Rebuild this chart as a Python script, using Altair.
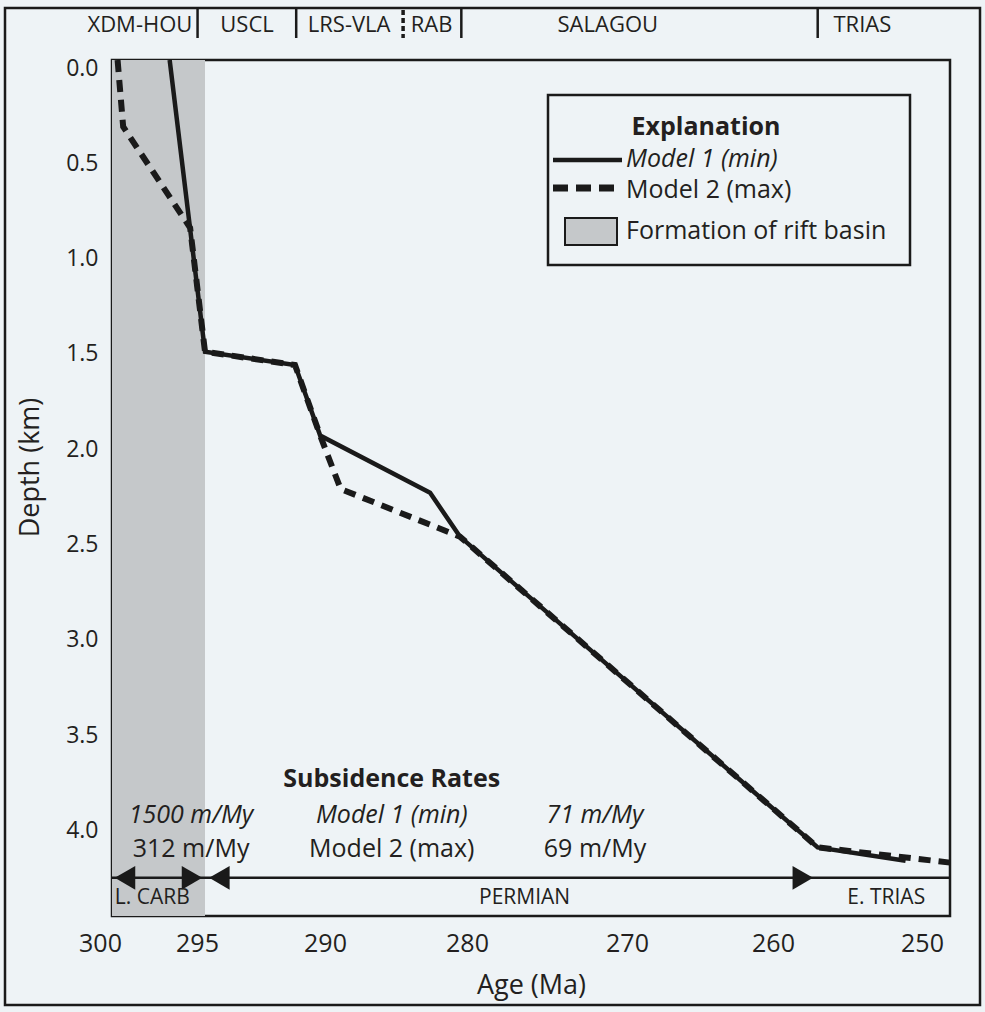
import altair as alt
import pandas as pd

# ---------------- data ----------------
m1_age = [296.9, 295.0, 291.25, 290.2, 282.6, 280.5, 257.0, 251.1]
m1_depth = [0.0, 1.53, 1.60, 1.97, 2.27, 2.50, 4.13, 4.20]

m2_age = [299.7, 299.4, 295.8, 295.0, 291.25, 290.2, 288.9, 280.5, 257.0, 248.0]
m2_depth = [0.0, 0.35, 0.88, 1.53, 1.60, 1.97, 2.25, 2.50, 4.13, 4.21]

rift_start, rift_end = 300, 295

x_ticks = [300, 295, 290, 280, 270, 260, 250]
y_ticks = [0.0, 0.5, 1.0, 1.5, 2.0, 2.5, 3.0, 3.5, 4.0]

form_names = ["XDM-HOU", "USCL", "LRS-VLA", "RAB", "SALAGOU", "TRIAS"]
form_label_age = [298.5, 293.25, 288.3, 282.5, 271.2, 254.0]
form_bound_age = [295.4, 291.2, 284.5, 280.4, 257.0]
form_bound_dashed = [False, False, True, False, False]

period_names = ["L. CARB", "PERMIAN", "E. TRIAS"]
period_label_age = [299.85, 276.4, 252.4]
period_align = ["left", "center", "center"]
period_arrow_age = [299.3, 295.7, 294.4, 258.0]
period_arrow_dir = ["triangle-left", "triangle-right", "triangle-left", "triangle-right"]
period_line = (300, 248)
period_line_depth = 4.29

rate_col_age = [295.75, 285.3, 272.0]
rate_row1 = ["1500 m/My", "Model 1 (min)", "71 m/My"]
rate_row2 = ["312 m/My", "Model 2 (max)", "69 m/My"]
rate_title = "Subsidence Rates"
rate_title_age, rate_title_depth = 285.3, 3.77
rate_row_depth = [3.96, 4.14]

# ---------------- style ----------------
FONT = "Open Sans"
TXT = "#231f20"
BG = "#eef3f6"
SHADE = "#c5c8ca"
W, H = 838, 856
DMAX = 4.49

xs = alt.Scale(domain=[300, 295, 290, 280, 270, 260, 250, 248],
               range=[0, 93, 213, 355, 515, 661, 810, 838], nice=False, zero=False)
ys = alt.Scale(domain=[0, DMAX], reverse=True, nice=False, zero=False)

x_axis = alt.Axis(
    values=x_ticks, title="Age (Ma)", grid=False, ticks=False, domain=False,
    labelFont=FONT, labelFontSize=25, labelColor=TXT, labelPadding=15, labelFlush=False,
    labelOffset={"condition": [{"test": "datum.value == 300", "value": -12},
                               {"test": "datum.value == 295", "value": -8}], "value": 0},
    titleFont=FONT, titleFontSize=27, titleFontWeight="normal", titleColor=TXT,
    titleY=69, titleBaseline="middle")
y_axis = alt.Axis(
    values=y_ticks, format=".1f", title="Depth (km)", grid=False, ticks=False, domain=False,
    labelFont=FONT, labelFontSize=23, labelColor=TXT, labelPadding=14, labelOffset=8,
    titleFont=FONT, titleFontSize=27, titleFontWeight="normal", titleColor=TXT,
    titleX=-82, titleY=407, titleAlign="center", titleBaseline="middle")


def X(field="age"):
    return alt.X(f"{field}:Q", scale=xs, axis=x_axis)


def Y(field="depth"):
    return alt.Y(f"{field}:Q", scale=ys, axis=y_axis)


# rift band
band = alt.Chart(pd.DataFrame({"a": [rift_start], "b": [rift_end], "d0": [0.0], "d1": [DMAX]})).mark_rect(
    color=SHADE
).encode(x=X("a"), x2="b:Q", y=Y("d0"), y2="d1:Q")

df1 = pd.DataFrame({"age": m1_age, "depth": m1_depth, "i": range(len(m1_age))})
df2 = pd.DataFrame({"age": m2_age, "depth": m2_depth, "i": range(len(m2_age))})

line1 = alt.Chart(df1).mark_line(color="#1a1a1a", strokeWidth=4.5, strokeJoin="miter").encode(
    x=X(), y=Y(), order="i:Q")
line2 = alt.Chart(df2).mark_line(color="#1a1a1a", strokeWidth=6, strokeDash=[12, 8]).encode(
    x=X(), y=Y(), order="i:Q")

# period arrow row
prow = alt.Chart(pd.DataFrame({"a": [period_line[0]], "b": [period_line[1]], "d": [period_line_depth]})).mark_rule(
    color="#1a1a1a", strokeWidth=2.5).encode(x=X("a"), x2="b:Q", y=Y("d"))
arrows = alt.Chart(pd.DataFrame({"age": period_arrow_age, "shape": period_arrow_dir,
                                 "depth": [period_line_depth] * 4})).mark_point(
    filled=True, color="#1a1a1a", opacity=1, size=560, strokeWidth=0).encode(
    x=X(), y=Y(), shape=alt.Shape("shape:N", scale=None, legend=None))

plabels = []
for n, a, al in zip(period_names, period_label_age, period_align):
    plabels.append(alt.Chart(pd.DataFrame({"age": [a], "t": [n]})).mark_text(
        font=FONT, fontSize=21, color=TXT, align=al, baseline="middle").encode(
        x=X(), y=alt.value(838), text="t:N"))

# formation row above the plot
flabels = alt.Chart(pd.DataFrame({"age": form_label_age, "t": form_names})).mark_text(
    font=FONT, fontSize=22, color=TXT, baseline="middle").encode(
    x=X(), y=alt.value(-35), text="t:N")
fb = pd.DataFrame({"age": form_bound_age, "dashed": form_bound_dashed})
fbound = alt.Chart(fb[~fb.dashed]).mark_rule(color="#1a1a1a", strokeWidth=2.5).encode(
    x=X(), y=alt.value(-52), y2=alt.value(-22))
fbound_d = alt.Chart(fb[fb.dashed]).mark_rule(color="#1a1a1a", strokeWidth=3.5, strokeDash=[5, 3]).encode(
    x=X(), y=alt.value(-50), y2=alt.value(-22))

# subsidence rates annotation
rtitle = alt.Chart(pd.DataFrame({"age": [rate_title_age], "depth": [rate_title_depth], "t": [rate_title]})).mark_text(
    font=FONT, fontSize=25, fontWeight="bold", color=TXT, baseline="middle").encode(
    x=X(), y=Y(), text="t:N")
r1 = alt.Chart(pd.DataFrame({"age": rate_col_age, "depth": [rate_row_depth[0]] * 3, "t": rate_row1})).mark_text(
    font=FONT, fontSize=25, fontStyle="italic", color=TXT, baseline="middle").encode(
    x=X(), y=Y(), text="t:N")
r2 = alt.Chart(pd.DataFrame({"age": rate_col_age, "depth": [rate_row_depth[1]] * 3, "t": rate_row2})).mark_text(
    font=FONT, fontSize=25, color=TXT, baseline="middle").encode(
    x=X(), y=Y(), text="t:N")

# explanation box (legend)
one = pd.DataFrame({"k": [0]})
leg_box = alt.Chart(one).mark_rect(fill=BG, stroke="#1a1a1a", strokeWidth=2.5).encode(
    x=alt.value(436), x2=alt.value(798), y=alt.value(35), y2=alt.value(205))
leg_title = alt.Chart(pd.DataFrame({"t": ["Explanation"]})).mark_text(
    font=FONT, fontSize=25, fontWeight="bold", color=TXT, baseline="middle").encode(
    x=alt.value(594), y=alt.value(67), text="t:N")
leg_l1 = alt.Chart(one).mark_rule(color="#1a1a1a", strokeWidth=4.5).encode(
    x=alt.value(441), x2=alt.value(510), y=alt.value(100))
leg_l2 = alt.Chart(one).mark_rule(color="#1a1a1a", strokeWidth=7, strokeDash=[15, 8]).encode(
    x=alt.value(441), x2=alt.value(510), y=alt.value(128))
leg_sw = alt.Chart(one).mark_rect(fill=SHADE, stroke="#1a1a1a", strokeWidth=2).encode(
    x=alt.value(453), x2=alt.value(505), y=alt.value(158), y2=alt.value(185))
leg_t1 = alt.Chart(pd.DataFrame({"t": ["Model 1 (min)"]})).mark_text(
    font=FONT, fontSize=25, fontStyle="italic", color=TXT, align="left", baseline="middle").encode(
    x=alt.value(514), y=alt.value(99), text="t:N")
leg_t2 = alt.Chart(pd.DataFrame({"t": ["Model 2 (max)"]})).mark_text(
    font=FONT, fontSize=25, color=TXT, align="left", baseline="middle").encode(
    x=alt.value(514), y=alt.value(130), text="t:N")
leg_t3 = alt.Chart(pd.DataFrame({"t": ["Formation of rift basin"]})).mark_text(
    font=FONT, fontSize=25, color=TXT, align="left", baseline="middle").encode(
    x=alt.value(514), y=alt.value(171), text="t:N")

# outer frame
outer = alt.Chart(one).mark_rect(filled=False, stroke="#1a1a1a", strokeWidth=2.5).encode(
    x=alt.value(-107), x2=alt.value(868), y=alt.value(-52), y2=alt.value(945))

chart = alt.layer(
    band, line1, line2, prow, arrows, *plabels, flabels, fbound, fbound_d,
    rtitle, r1, r2, leg_box, leg_title, leg_l1, leg_l2, leg_sw, leg_t1, leg_t2, leg_t3, outer
).properties(
    width=W, height=H,
    autosize=alt.AutoSizeParams(type="none"),
    padding={"left": 112, "top": 60, "right": 35, "bottom": 96},
    background=BG,
).configure_view(stroke="#1a1a1a", strokeWidth=2.5, fill=BG)

chart.save("out.html", embed_options={"renderer": "svg", "actions": False})
